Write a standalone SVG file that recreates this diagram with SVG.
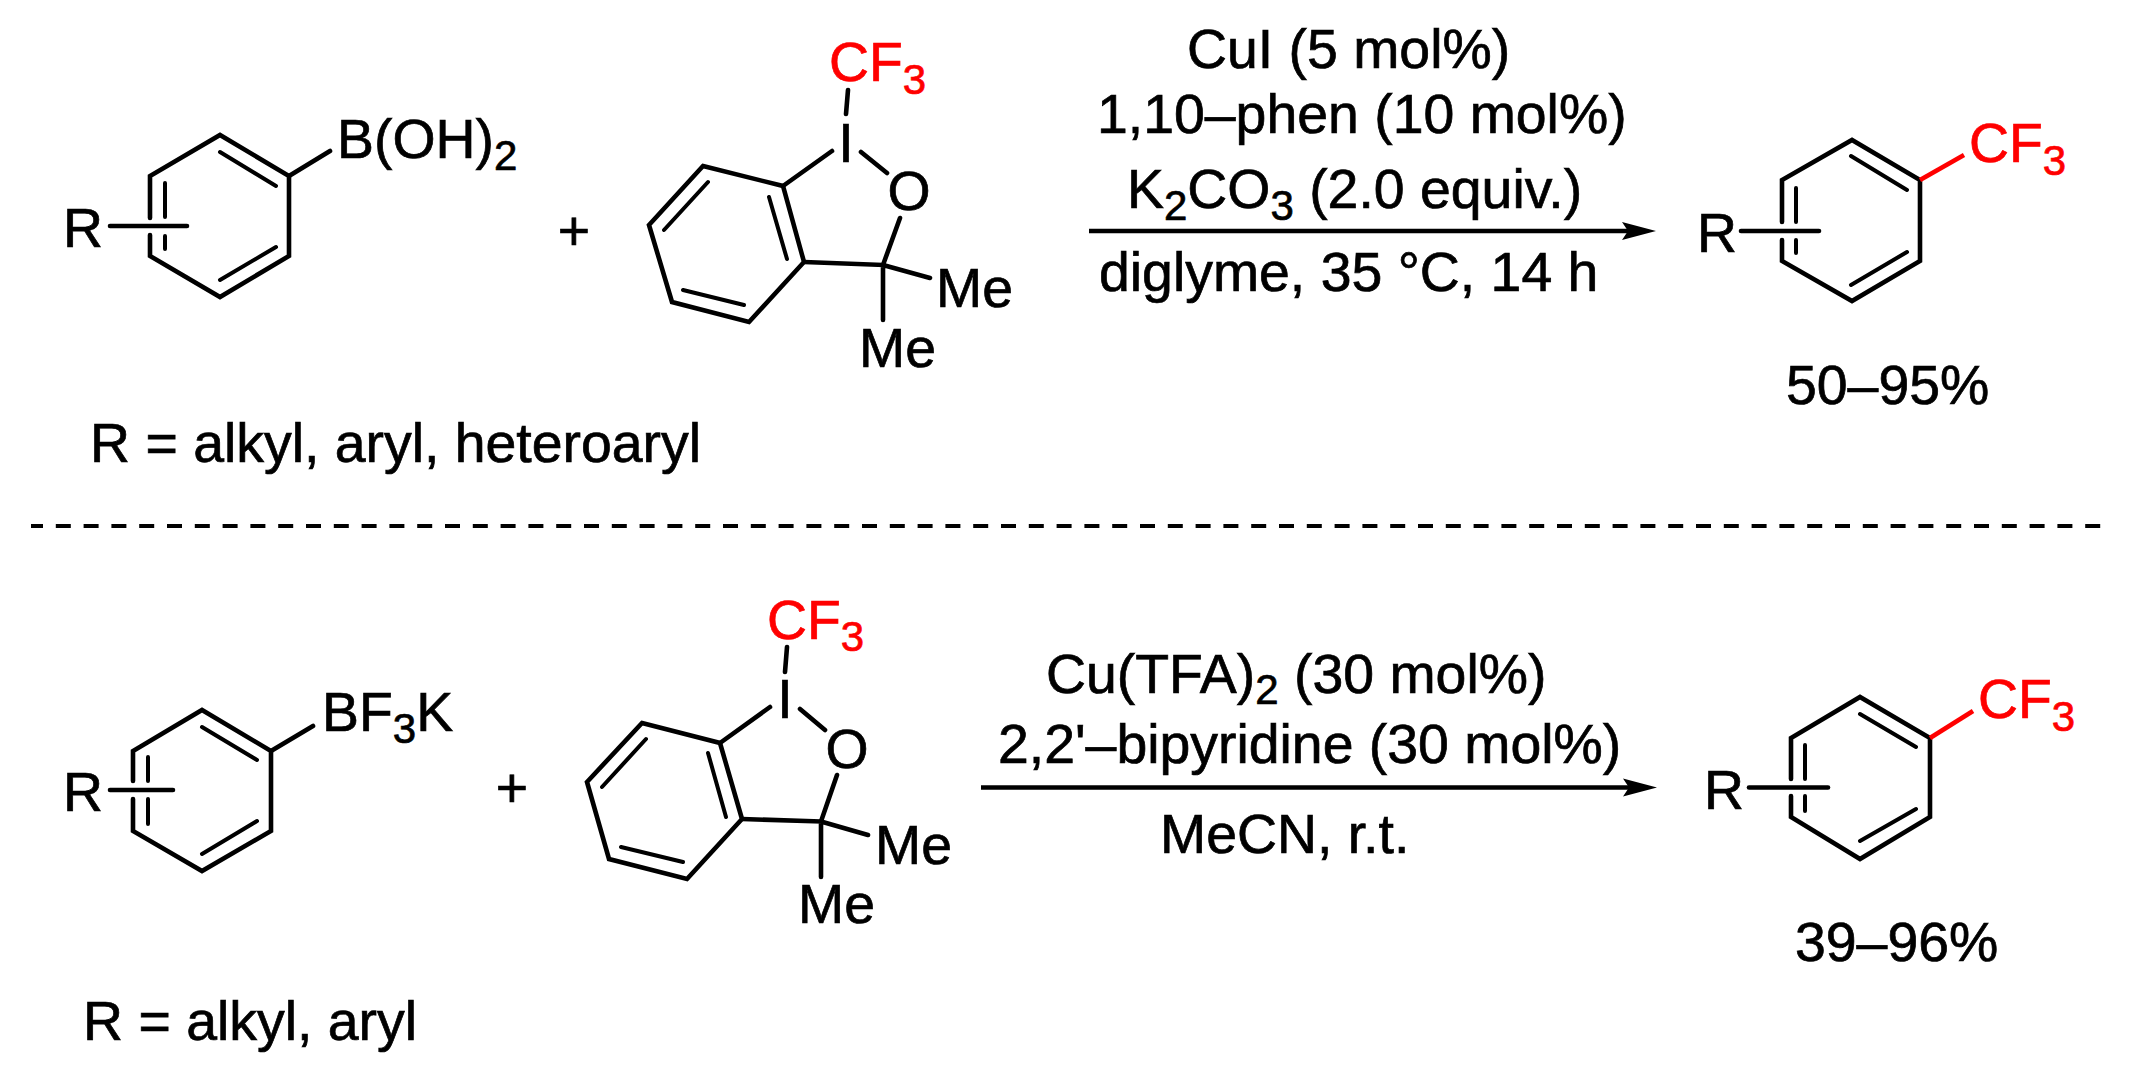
<svg xmlns="http://www.w3.org/2000/svg" width="2134" height="1078" viewBox="0 0 2134 1078">
<style>
text{font-family:"Liberation Sans",Arial,sans-serif;font-size:55.4px;fill:#000;stroke:#000;stroke-width:.7}
.s{font-size:42px}
text.red{fill:#f00;stroke:#f00}
.b{stroke:#000;stroke-width:4.6;fill:none;stroke-linecap:round;stroke-linejoin:miter}
.t{stroke-width:4}
.rb{stroke:#f00;stroke-width:4.6;fill:none}
.c{text-anchor:middle}
</style>
<defs>
<marker id="ah" markerUnits="userSpaceOnUse" markerWidth="36" markerHeight="20" refX="20" refY="9" orient="auto" viewBox="0 0 36 18"><path d="M0 0L34 9L0 18L6 9Z" fill="#000"/></marker>
</defs>
<rect width="2134" height="1078" fill="#fff"/>
<g id="connectors">
<path class="b" d="M1089 231H1642" marker-end="url(#ah)" style="stroke-linecap:butt"/>
<path class="b" d="M981 787.5H1643" marker-end="url(#ah)" style="stroke-linecap:butt"/>
<path d="M31 526H2104" stroke="#000" stroke-width="4" stroke-dasharray="15 12.8" stroke-dashoffset="3" fill="none"/>
</g>
<g id="sub1">
<path class="b" d="M150 218V176L220 135L289 176V256L220 297L150 256V235"/>
<path class="b t" d="M220 152L276 186M276 247L220 280M165 183V217M165 236V249"/>
<path class="b" d="M110 226H187M289 176L330 151"/>
<text x="63" y="247">R</text>
<text x="337" y="158">B(OH)<tspan class="s" dy="12">2</tspan></text>
<text x="90" y="462">R = alkyl, aryl, heteroaryl</text>
</g>
<g id="plus1"><text class="c" x="574" y="250">+</text></g>
<g id="reagent1">
<path class="b" d="M703 166L783 186L804 262L749 322L672 302L649 225Z"/>
<path class="b t" d="M769 197L787 259M708 182L664 230M683 290L744 305"/>
<path class="b" d="M783 186L832 151M848 90L846 114M861 152L887 173M900 218L883 265L804 262M883 265L930 278M883 265V320"/>
<text class="red" x="829" y="81">CF<tspan class="s" dy="13">3</tspan></text>
<text class="c" x="846" y="161.500">I</text>
<text class="c" x="909" y="210">O</text>
<text x="936" y="307">Me</text>
<text x="859" y="367">Me</text>
</g>
<g id="conditions1">
<text x="1187" y="68">CuI (5 mol%)</text>
<text x="1097" y="133">1,10–phen (10 mol%)</text>
<text x="1127" y="208">K<tspan class="s" dy="12">2</tspan><tspan dy="-12">CO</tspan><tspan class="s" dy="12">3</tspan><tspan dy="-12"> (2.0 equiv.)</tspan></text>
<text x="1099" y="291">diglyme, 35 °C, 14 h</text>
</g>
<g id="product1">
<path class="b" d="M1782 222V180L1852 140L1920 180V261L1852 301L1782 261V240"/>
<path class="b t" d="M1851 156L1907 190M1907 252L1851 285M1796 188V222M1796 240V253"/>
<path class="b" d="M1741 231H1819"/>
<path class="rb" d="M1920 180L1964 155"/>
<text x="1697" y="252">R</text>
<text class="red" x="1969" y="161.500">CF<tspan class="s" dy="13">3</tspan></text>
<text x="1786" y="404">50–95%</text>
</g>
<g id="sub2">
<path class="b" d="M133 781V751L202 710L271 751V831L202 871L133 831V799"/>
<path class="b t" d="M202 727L257 760M257 821L202 854M148 757V781M148 799V824"/>
<path class="b" d="M110 790H173M271 751L313 726"/>
<text x="63" y="811">R</text>
<text x="322" y="731">BF<tspan class="s" dy="12">3</tspan><tspan dy="-12">K</tspan></text>
<text x="83" y="1040">R = alkyl, aryl</text>
</g>
<g id="plus2"><text class="c" x="512" y="807">+</text></g>
<g id="reagent2">
<path class="b" d="M642 723L720 743L742 819L687 879L609 859L587 782Z"/>
<path class="b t" d="M708 753L726 817M646 739L602 787M621 847L683 862"/>
<path class="b" d="M720 743L770 707M787 647L785 672M800 709L825 730M837 775L821 821.500L742 819M821 821.500L868 835M821 821.500V877"/>
<text class="red" x="767" y="639">CF<tspan class="s" dy="12">3</tspan></text>
<text class="c" x="785" y="718">I</text>
<text class="c" x="847" y="767.500">O</text>
<text x="875" y="864">Me</text>
<text x="798" y="923">Me</text>
</g>
<g id="conditions2">
<text x="1046" y="693">Cu(TFA)<tspan class="s" dy="11">2</tspan><tspan dy="-11"> (30 mol%)</tspan></text>
<text x="998" y="763">2,2'–bipyridine (30 mol%)</text>
<text x="1160" y="853">MeCN, r.t.</text>
</g>
<g id="product2">
<path class="b" d="M1791 779V738L1860 697L1930 738V817L1860 859L1791 817V796"/>
<path class="b t" d="M1860 714L1916 747M1916 809L1860 841M1805 745V779M1805 796V811"/>
<path class="b" d="M1749 787.500H1828"/>
<path class="rb" d="M1930 738L1973 711"/>
<text x="1704" y="809">R</text>
<text class="red" x="1978" y="718">CF<tspan class="s" dy="13">3</tspan></text>
<text x="1795" y="961">39–96%</text>
</g>
</svg>
